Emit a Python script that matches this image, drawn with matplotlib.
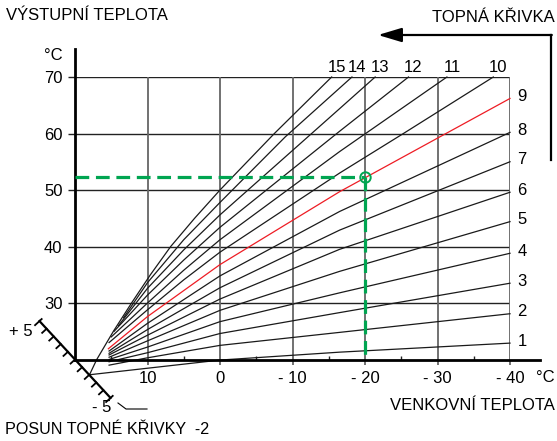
import numpy as np
import matplotlib.pyplot as plt
from matplotlib.lines import Line2D
from matplotlib.patches import FancyArrowPatch
from matplotlib.transforms import IdentityTransform

plt.rcParams['font.family'] = ['Liberation Sans', 'DejaVu Sans']

# osa x: venkovni teplota, osa y: vystupni teplota
outdoor_ticks = [10, 0, -10, -20, -30, -40]
outdoor_labels = ["10", "0", "- 10", "- 20", "- 30", "- 40"]
outdoor_minor = [15, 5, -5, -15, -25, -35]
flow_ticks = [30, 40, 50, 60, 70]
flow_labels = ["30", "40", "50", "60", "70"]

# topne krivky 1..15 (body)
curve_names = [str(i) for i in range(1, 16)]
curve_t = [
    [18.0, 0, -16.5, -40],
    [15.3, 10, 0, -16.5, -40],
    [15.3, 10, 0, -16.5, -40],
    [15.3, 10, 0, -16.5, -40],
    [15.3, 10, 0, -16.5, -40],
    [15.3, 10, 0, -16.5, -40],
    [15.3, 10, 0, -16.5, -40],
    [15.3, 10, 0, -16.5, -40],
    [15.4, 10, 0, -16.5, -40],
    [15.3, 10, 5, 0, -16.5, -25.3, -37.7],
    [15.0, 10, 5, 0, -16.5, -31.3],
    [14.6, 10, 5, 0, -16.5, -26.0],
    [14.0, 10, 5, 0, -16.5, -21.4],
    [13.3, 10, 5, 0, -9, -18.2],
    [18.0, 17.0, 14.7, 12.2, 9.6, 6.8, 3.5, 0, -7.5, -15.4],
]
curve_f = [
    [17.3, 19.9, 21.3, 22.9],
    [19.0, 20.3, 22.5, 24.8, 28.1],
    [19.6, 21.2, 24.6, 28.3, 33.5],
    [20.0, 22.2, 26.7, 31.8, 38.8],
    [20.4, 23.3, 28.7, 35.6, 44.4],
    [20.8, 24.3, 30.7, 39.5, 49.6],
    [21.1, 25.3, 32.7, 42.9, 55.0],
    [21.5, 26.4, 34.8, 46.2, 60.2],
    [21.9, 27.6, 36.8, 49.7, 66.2],
    [23.0, 28.8, 34.1, 39.0, 53.0, 60.0, 70],
    [24.0, 30.0, 35.8, 41.2, 56.8, 70],
    [25.0, 31.4, 37.6, 43.4, 60.4, 70],
    [26.0, 32.6, 39.4, 45.6, 64.4, 70],
    [27.4, 33.6, 41.2, 47.8, 59.4, 70],
    [17.3, 20.0, 25.0, 30.0, 35.0, 40.0, 45.0, 50.0, 60.0, 70],
]
red_curve = "9"

# pracovni bod
op_outdoor = -20
op_flow = 52.3

# posun topne krivky
shift_steps = list(range(5, -6, -1))
shift_value = -2

W, H = 557, 441
fig = plt.figure(figsize=(W / 100, H / 100), dpi=100)
ax = fig.add_axes([75 / W, 1 - 359.5 / H, 435 / W, 282.5 / H])
ax.set_xlim(20, -40)
ax.set_ylim(20, 70)
for s in ax.spines.values():
    s.set_visible(False)


def fpos(x, y):
    return x / W, 1 - y / H


# mrizka
ax.hlines(flow_ticks, 20, -40, color="#222222", lw=1.0, zorder=1)
ax.vlines(outdoor_ticks, 20, 70, color="#666666", lw=1.3, zorder=1)
ax.plot([20, 20], [20, 75], color="black", lw=2, clip_on=False, zorder=3)
ax.plot([20, -44.1], [20, 20], color="black", lw=2, clip_on=False, zorder=3)

ax.set_xticks(outdoor_ticks)
ax.set_xticklabels(outdoor_labels, fontsize=12)
ax.set_xticks(outdoor_minor, minor=True)
ax.tick_params(axis="x", which="major", direction="out", length=3.5, width=1.3,
               color="#666666", pad=5)
ax.tick_params(axis="x", which="minor", direction="in", length=3, width=1, color="#222222")
ax.set_yticks(flow_ticks)
ax.set_yticklabels(flow_labels, fontsize=12)
ax.tick_params(axis="y", direction="out", length=5, width=1, color="#222222", pad=4)

# krivky
for name, t, f in zip(curve_names, curve_t, curve_f):
    col = "#ee1c24" if name == red_curve else "#1a1a1a"
    ax.plot(t, f, color=col, lw=0.9, zorder=2, clip_on=False)
    if t[-1] == -40:
        ax.annotate(name, (t[-1], f[-1]), xytext=(12, 2), textcoords="offset pixels",
                    ha="center", va="center", fontsize=12, annotation_clip=False)
    else:
        ax.annotate(name, (t[-1], f[-1]), xytext=(5, 10), textcoords="offset pixels",
                    ha="center", va="center", fontsize=12, annotation_clip=False)

# pracovni bod
green = "#00a551"
ax.plot([20, op_outdoor], [op_flow, op_flow], color=green, lw=2.3, dashes=(4.3, 2.1),
        clip_on=False, zorder=4)
ax.plot([op_outdoor, op_outdoor], [op_flow, 20], color=green, lw=2.3, dashes=(4.3, 2.1),
        clip_on=False, zorder=4)
ax.plot([op_outdoor], [op_flow], marker="o", ms=7.5, mfc="none", mec=green, mew=1.4,
        zorder=5, clip_on=False)

# stupnice posunu
fig.canvas.draw()
p0 = ax.transData.transform((20, 20))
p5 = ax.transData.transform((20 + 0.98 * 5, 20 + 1.36 * 5))
step = (p5 - p0) / 5
u = step / np.hypot(*step)
n = np.array([-u[1], u[0]])
if n[0] > 0:
    n = -n
tr = IdentityTransform()
a = p0 + step * shift_steps[0]
b = p0 + step * shift_steps[-1]
fig.add_artist(Line2D([a[0], b[0]], [a[1], b[1]], color="black", lw=1.6, transform=tr))
for s in shift_steps:
    p = p0 + step * s
    if s in (shift_steps[0], shift_steps[-1]):
        q1, q2 = p - n * 3, p + n * 6
    else:
        q1, q2 = p, p + n * 6
    fig.add_artist(Line2D([q1[0], q2[0]], [q1[1], q2[1]], color="black", lw=1.3, transform=tr))

# texty
fig.text(*fpos(6, 15), "VÝSTUPNÍ TEPLOTA", fontsize=12, va="center", ha="left")
fig.text(*fpos(53, 55), "°C", fontsize=12, va="center", ha="center")
fig.text(*fpos(555, 18), "TOPNÁ KŘIVKA", fontsize=12, va="center", ha="right")
fig.text(*fpos(545, 378), "°C", fontsize=12, va="center", ha="center")
fig.text(*fpos(555, 405), "VENKOVNÍ TEPLOTA", fontsize=12, va="center", ha="right")
fig.text(*fpos(33, 331), "+ 5", fontsize=12, va="center", ha="right")
fig.text(*fpos(102, 407), "- 5", fontsize=12, va="center", ha="center")
fig.text(*fpos(5, 430), f"POSUN TOPNÉ KŘIVKY  {shift_value}", fontsize=11.6, va="center",
         ha="left")

# odkazova cara u -5
xs = [118 / W, 126 / W, 147 / W]
ys = [1 - 403 / H, 1 - 409 / H, 1 - 409 / H]
fig.add_artist(Line2D(xs, ys, color="black", lw=0.8, transform=fig.transFigure))

# sipka topna krivka
fig.add_artist(Line2D([551 / W, 551 / W], [1 - 160 / H, 1 - 35 / H], color="black", lw=1.6,
                      transform=fig.transFigure))
arrow = FancyArrowPatch(fpos(551.8, 35), fpos(378, 35), transform=fig.transFigure,
                        arrowstyle="-|>,head_length=1.0,head_width=0.3", mutation_scale=14.4,
                        color="black", lw=1.6, shrinkA=0, shrinkB=0)
fig.add_artist(arrow)

fig.savefig("out.png", dpi=100)
